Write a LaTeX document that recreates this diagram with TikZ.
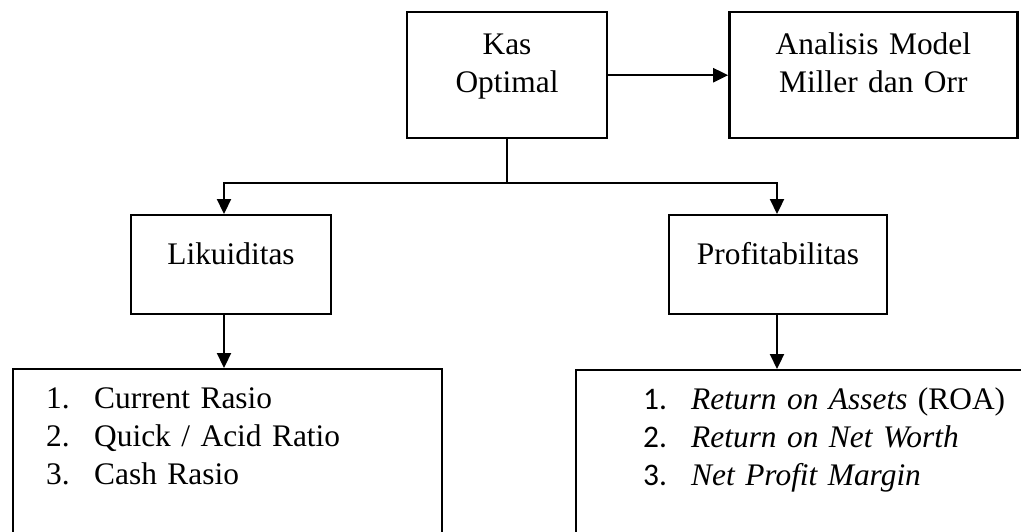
\documentclass[tikz,border=0pt]{standalone}
\usepackage{fontspec}
\setmainfont{Liberation Serif}
\newfontfamily\numfont{Carlito}
\usetikzlibrary{arrows.meta,positioning}
\tikzset{
  box/.style={draw=black,line width=1.2pt,inner sep=0pt,align=center,anchor=north},
  flow/.style={-{Triangle[length=7.5pt,width=7pt]},line width=1.1pt},
  link/.style={line width=1.1pt},
  listbox/.style={box,align=left,anchor=north west,text height=19.5pt,text depth=76.5pt},
}
\newcommand{\itm}[2]{\hspace*{#1}\makebox[24pt][l]{#2}}

\begin{document}
\begin{tikzpicture}[x=0.5pt,y=-0.5pt,font=\fontsize{15.7}{19}\selectfont]
  \clip (0,0) rectangle (1021,531);
  % top row
  \node[box,text width=100pt,text height=21pt,text depth=42pt] (kas) at (507,11) {Kas\\Optimal};
  \node[box,text width=144pt,text height=21pt,text depth=42pt,anchor=west,right=60pt of kas] (ana) {Analisis Model\\Miller dan Orr};
  \draw[flow] (kas.east)--(ana.west);

  % second row
  \node[box,text width=100pt,text height=24.5pt,text depth=25pt] (lik) at (231,214) {Likuiditas};
  \node[box,text width=109pt,text height=24.5pt,text depth=25pt] (prof) at (778,214) {Profitabilitas};
  \coordinate (fork) at (507,183);
  \coordinate (forkL) at (224,183);
  \coordinate (forkR) at (777,183);
  \draw[link] (kas.south)--(fork);
  \draw[flow] (fork)--(forkL)--(lik.north -| forkL);
  \draw[flow] (fork)--(forkR)--(prof.north -| forkR);

  % ratio lists
  \node[listbox,text width=214.5pt] (rasL) at (12,368) {%
    \itm{16.5pt}{1.}Current Rasio\\
    \itm{16.5pt}{2.}Quick / Acid Ratio\\
    \itm{16.5pt}{3.}Cash Rasio};
  \node[listbox,text width=242.5pt] (rasR) at (575,369) {%
    \itm{33.5pt}{\numfont 1.}\textit{Return on Assets} (ROA)\\
    \itm{33.5pt}{\numfont 2.}\textit{Return on Net Worth}\\
    \itm{33.5pt}{\numfont 3.}\textit{Net Profit Margin}};
  \draw[flow] (lik.south -| forkL)--(rasL.north -| forkL);
  \draw[flow] (prof.south -| forkR)--(rasR.north -| forkR);
\end{tikzpicture}
\end{document}
